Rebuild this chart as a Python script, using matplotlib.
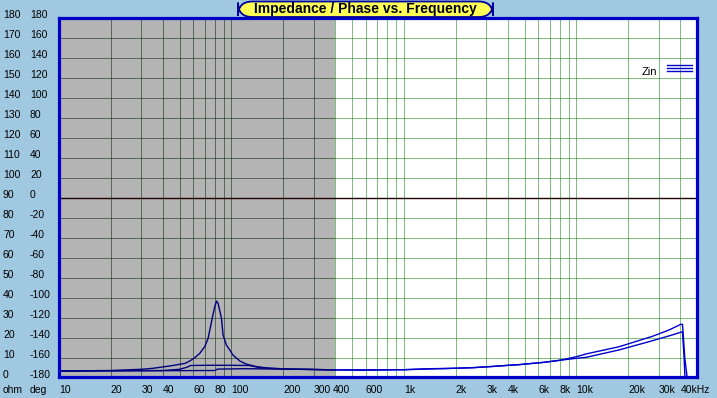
import numpy as np
import matplotlib.pyplot as plt
import matplotlib.transforms as mtransforms
from matplotlib.patches import FancyBboxPatch
from matplotlib.lines import Line2D

plt.rcParams['font.family'] = ['Liberation Sans', 'DejaVu Sans']
plt.rcParams['lines.scale_dashes'] = False

# impedance curves (Hz, ohm)
freq_a = [10, 20, 30, 35, 45, 54, 57.4, 61.3, 65.5, 70, 73.2, 76.6, 80, 81.9, 83.6,
          87.5, 89.4, 93.5, 97.8, 102, 112, 122, 140, 167, 218, 300, 400, 570, 1000,
          1400, 1800, 2500, 3400, 4000, 4600, 6500, 8000, 10000, 11400, 17700, 27600,
          34500, 40300, 41200, 42500, 43900]
zin_a = [3.65, 3.9, 4.5, 5.0, 6.3, 7.5, 8.7, 10.3, 12.5, 15.8, 20, 28.3, 35.8, 38.6, 37.5,
         30, 21.6, 16.6, 14.1, 11.6, 8.6, 7.1, 5.8, 5.0, 4.6, 4.4, 4.2, 4.0, 4.3,
         4.8, 4.9, 5.3, 6.0, 6.5, 6.8, 8.0, 9.0, 10.8, 12.2, 15.8, 21.0,
         24.2, 27.0, 27.0, 10.0, 0.0]

freq_b = [10, 40, 50, 55, 58, 70, 100, 127, 145, 170, 220, 300, 400, 1000, 2500, 4600,
          6500, 8000, 10000, 11400, 17700, 27600, 36000, 41200, 42100, 42600]
zin_b = [3.7, 3.9, 4.5, 5.5, 6.4, 6.5, 6.5, 6.4, 5.4, 5.0, 4.6, 4.4, 4.2, 4.3, 5.3, 6.8,
         8.0, 9.0, 10.0, 10.5, 14.2, 18.8, 21.7, 23.3, 10.0, 0.0]

freq_c = [10, 80, 83, 120, 200, 300, 400]
zin_c = [3.6, 3.9, 4.6, 4.8, 4.6, 4.4, 4.2]

tick_freqs = [10, 20, 30, 40, 60, 80, 100, 200, 300, 400, 600, 1000, 2000, 3000, 4000,
              6000, 8000, 10000, 20000, 30000, 40000]
tick_labels = ['10', '20', '30', '40', '60', '80', '100', '200', '300', '400', '600', '1k',
               '2k', '3k', '4k', '6k', '8k', '10k', '20k', '30k', '40kHz']
ohm_ticks = list(range(0, 181, 10))
deg_ticks = list(range(-180, 181, 20))

shade_end = 400
bg = '#A0C8E0'
green = '#008000'
dark = '#002000'
fs = 7.5

fig = plt.figure(figsize=(7.17, 3.98), dpi=100, facecolor=bg)
ax = fig.add_axes([59 / 717, 1 - 376.7 / 398, 638 / 717, 359 / 398])
ax.set_facecolor('white')
ax.set_xscale('log')
ax.set_xlim(10, 50000)
ax.set_ylim(0.8, 180.3)
ax.xaxis.set_major_locator(plt.NullLocator())
ax.xaxis.set_minor_locator(plt.NullLocator())
ax.yaxis.set_major_locator(plt.NullLocator())
for s in ax.spines.values():
    s.set_color('#0000C8')
    s.set_linewidth(2.3)
    s.set_zorder(10)

ax.axvspan(10, shade_end, color='#B4B4B4', lw=0, zorder=0)

# grid, 1px on / 1px off
dot = (0, (0.72, 0.72))
grid_freqs = [m * 10 ** e for e in range(1, 5) for m in range(1, 10)]
for f in grid_freqs:
    if 10 < f < 50000:
        ax.axvline(f, color=dark if f < shade_end else green, lw=0.72,
                   ls=dot, snap=True, zorder=1)
levels = [v for v in ohm_ticks if 0 < v < 180]
ax.hlines(levels, 10, shade_end, colors=dark, lw=0.72, linestyles=dot,
          snap=True, zorder=1)
ax.hlines(levels, shade_end, 50000, colors=green, lw=0.72, linestyles=dot,
          snap=True, zorder=1)
ax.axhline(90, color='#200000', lw=1.0, zorder=2)


def draw(f, z):
    f = np.array(f)
    z = np.array(z)
    lo = f <= shade_end
    hi = f >= shade_end
    ax.plot(f[lo], z[lo], color='#000080', lw=1.0, zorder=3)
    ax.plot(f[hi], z[hi], color='#0000CC', lw=1.0, zorder=3)


draw(freq_c, zin_c)
draw(freq_b, zin_b)
draw(freq_a, zin_a)

# y labels (two columns: ohm and deg)
ytrans = mtransforms.offset_copy(
    mtransforms.blended_transform_factory(fig.transFigure, ax.transData),
    fig=fig, y=3, units='dots')
for v, d in zip(ohm_ticks, deg_ticks):
    fig.text(3 / 717, v, str(v), transform=ytrans, ha='left', va='center',
             fontsize=fs)
    fig.text(30 / 717, v, str(d), transform=ytrans, ha='left', va='center',
             fontsize=fs)

# x labels
xtrans = ax.get_xaxis_transform()
shifted = mtransforms.offset_copy(xtrans, fig=fig, x=-3, units='dots')
for f, lab in zip(tick_freqs, tick_labels):
    ax.text(f, -0.037, lab, transform=shifted if f == 400 else xtrans, ha='left',
            va='center', fontsize=fs, clip_on=False)
fig.text(3 / 717, 1 - 390 / 398, 'ohm', ha='left', va='center', fontsize=fs)
fig.text(30 / 717, 1 - 390 / 398, 'deg', ha='left', va='center', fontsize=fs)

# title box
box = FancyBboxPatch((238 / 717, 1 - 17 / 398), 255 / 717, 15.5 / 398,
                     boxstyle='round,pad=0,rounding_size=0.02',
                     transform=fig.transFigure, facecolor='#FFFF55',
                     edgecolor='#0000A0', lw=1.3, mutation_aspect=717 / 398)
fig.patches.append(box)
fig.text(365.5 / 717, 1 - 9.5 / 398, 'Impedance / Phase vs. Frequency',
         ha='center', va='center', fontsize=10, fontweight='bold', color='#000010')

# legend
fig.text(657 / 717, 1 - 71.7 / 398, 'Zin', ha='right', va='center', fontsize=8)
for yy in [65, 68.3, 71]:
    fig.lines.append(Line2D([667 / 717, 692 / 717], [1 - yy / 398, 1 - yy / 398],
                            transform=fig.transFigure, color='#0000CC', lw=1.0))

fig.savefig('out.png', dpi=100, facecolor=bg)
